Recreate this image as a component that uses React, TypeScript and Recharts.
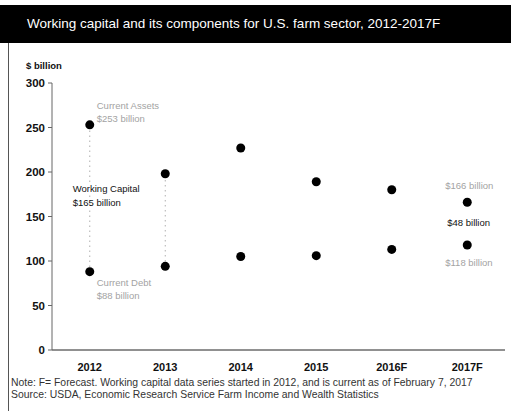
import React from 'react';
import {
  ComposedChart,
  Scatter,
  XAxis,
  YAxis,
  ReferenceLine,
  ReferenceDot,
} from 'recharts';

const years = ['2012', '2013', '2014', '2015', '2016F', '2017F'];
const currentAssets = [253, 198, 227, 189, 180, 166];
const currentDebt = [88, 94, 105, 106, 113, 118];
const yTicks = [0, 50, 100, 150, 200, 250, 300];

// dotted connectors for the annotated years
const connectorYears = ['2012', '2013'];

const assetsData = years.map((year, i) => ({ year, value: currentAssets[i] }));
const debtData = years.map((year, i) => ({ year, value: currentDebt[i] }));

const GRAY = '#a3a3a3';
const FONT = '"Liberation Sans", Arial, sans-serif';

type Note = {
  year: string;
  value: number;
  lines: string[];
  color: string;
  dx: number;
  dy: number;
};

const idx = (y: string) => years.indexOf(y);

const notes: Note[] = [
  { year: '2012', value: currentAssets[0], lines: ['Current Assets', '$253 billion'], color: GRAY, dx: 7, dy: -20 },
  { year: '2012', value: (currentAssets[0] + currentDebt[0]) / 2, lines: ['Working Capital', '$165 billion'], color: '#111', dx: -17, dy: -10 },
  { year: '2012', value: currentDebt[0], lines: ['Current Debt', '$88 billion'], color: GRAY, dx: 7, dy: 10 },
  { year: '2017F', value: currentAssets[5], lines: ['$166 billion'], color: GRAY, dx: -22, dy: -17 },
  { year: '2017F', value: (currentAssets[5] + currentDebt[5]) / 2, lines: ['$48 billion'], color: '#111', dx: -20, dy: -2 },
  { year: '2017F', value: currentDebt[5], lines: ['$118 billion'], color: GRAY, dx: -22, dy: 17 },
];

const Dot = (props: any) => <circle cx={props.cx} cy={props.cy} r={4.5} fill="#000" />;

const noteLabel = (n: Note) => (props: any) => {
  const vb = props.viewBox || {};
  const x = (vb.x ?? 0) + (vb.width ?? 0) / 2 + n.dx;
  const y = (vb.y ?? 0) + (vb.height ?? 0) / 2 + n.dy;
  return (
    <text
      x={x}
      y={y}
      fontSize={9.5}
      fontFamily={FONT}
      fill={n.color}
      stroke="#fff"
      strokeWidth={3}
      paintOrder="stroke"
      dominantBaseline="central"
    >
      {n.lines.map((l, i) => (
        <tspan key={i} x={x} dy={i === 0 ? 0 : 13.5}>
          {l}
        </tspan>
      ))}
    </text>
  );
};

export default function App() {
  return (
    <div
      style={{
        position: 'absolute',
        left: 0,
        top: 0,
        width: 511,
        height: 411,
        background: '#fff',
        fontFamily: FONT,
        overflow: 'hidden',
      }}
    >
      <div
        style={{
          position: 'absolute',
          left: 0,
          top: 5,
          width: 511,
          height: 38,
          background: '#000',
          color: '#fff',
          fontSize: 13.5,
          lineHeight: '38px',
          paddingLeft: 27,
          boxSizing: 'border-box',
          whiteSpace: 'nowrap',
        }}
      >
        Working capital and its components for U.S. farm sector, 2012-2017F
      </div>
      <div style={{ position: 'absolute', left: 8, top: 43, width: 1, height: 368, background: '#555' }} />
      <div style={{ position: 'absolute', left: 26, top: 60, fontSize: 9.5, fontWeight: 'bold', color: '#111' }}>
        $ billion
      </div>

      <div style={{ position: 'absolute', left: 0, top: 0 }}>
        <ComposedChart
          width={511}
          height={411}
          data={assetsData}
          margin={{ top: 83, right: 6, bottom: 0, left: 0 }}
        >
          <XAxis
            dataKey="year"
            type="category"
            scale="band"
            allowDuplicatedCategory={false}
            height={61}
            axisLine={{ stroke: '#222' }}
            tickLine={false}
            tickMargin={7}
            tick={{ fill: '#111', fontSize: 11, fontWeight: 'bold', fontFamily: FONT }}
          />
          <YAxis
            type="number"
            domain={[0, 300]}
            ticks={yTicks}
            width={52}
            axisLine={{ stroke: '#666' }}
            tickLine={{ stroke: '#666' }}
            tickSize={4}
            tickMargin={3}
            tick={{ fill: '#111', fontSize: 11.5, fontWeight: 'bold', fontFamily: FONT }}
          />
          {connectorYears.map((y) => (
            <ReferenceLine
              key={y}
              segment={[
                { x: y, y: currentDebt[idx(y)] },
                { x: y, y: currentAssets[idx(y)] },
              ]}
              stroke="#888"
              strokeDasharray="1 4"
              strokeWidth={1}
            />
          ))}
          <Scatter data={assetsData} dataKey="value" shape={Dot} isAnimationActive={false} />
          <Scatter data={debtData} dataKey="value" shape={Dot} isAnimationActive={false} />
          {notes.map((n, i) => (
            <ReferenceDot
              key={i}
              x={n.year}
              y={n.value}
              r={0}
              fill="none"
              stroke="none"
              label={{ content: noteLabel(n) }}
            />
          ))}
        </ComposedChart>
      </div>

      <div
        style={{
          position: 'absolute',
          left: 11,
          top: 377,
          fontSize: 10.4,
          color: '#333',
          lineHeight: '12px',
          whiteSpace: 'nowrap',
        }}
      >
        Note: F= Forecast. Working capital data series started in 2012, and is current as of February 7, 2017
        <br />
        Source: USDA, Economic Research Service Farm Income and Wealth Statistics
      </div>
    </div>
  );
}
